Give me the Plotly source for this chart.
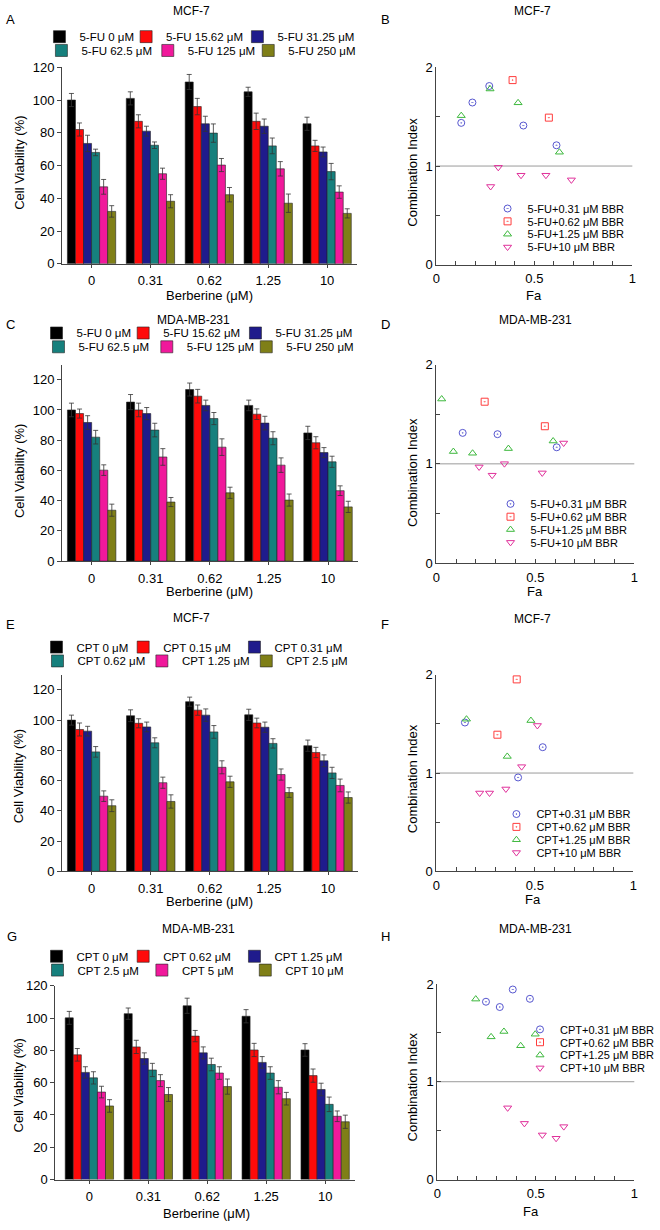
import plotly.graph_objects as go

W, H = 660, 1230

# ---------------- data ----------------
berberine = ["0", "0.31", "0.62", "1.25", "10"]

fu_mcf7_labels = ["5-FU 0 μM", "5-FU 15.62 μM", "5-FU 31.25 μM",
                  "5-FU 62.5 μM", "5-FU 125 μM", "5-FU 250 μM"]
fu_mcf7_mean = [
    [100, 101, 111, 105, 85.5],
    [82, 87, 96, 87, 72],
    [73.5, 81, 85.5, 84, 68.3],
    [68, 72.4, 79.8, 72, 56.3],
    [47, 55, 60.3, 58, 43.8],
    [32, 38.2, 42.2, 37, 30.8],
]
fu_mcf7_err = [
    [4, 4, 4.6, 2.8, 4],
    [4, 4, 5, 5, 3.4],
    [5, 3, 4.6, 4.4, 3],
    [2, 2, 5.6, 4.8, 5],
    [4.5, 3.4, 4, 4.4, 3.8],
    [3.5, 4, 4.4, 5.6, 2.8],
]

fu_mda_labels = fu_mcf7_labels
fu_mda_mean = [
    [100, 105.2, 113.5, 103, 84.8],
    [97.6, 100, 109.1, 97.2, 78.3],
    [91.7, 97.6, 103, 91.3, 71.8],
    [82, 86.7, 94.3, 81.3, 65.7],
    [60.2, 68.9, 75.4, 63.5, 46.6],
    [33.7, 39.1, 45.2, 40.4, 35.9],
]
fu_mda_err = [
    [4.5, 5, 4.3, 3.5, 4.4],
    [3, 4.5, 4.5, 3.5, 4],
    [4.5, 4, 3.5, 4.5, 3.3],
    [4.5, 4.5, 4, 4.3, 3.7],
    [3.5, 5.5, 5.5, 4.8, 3.2],
    [4, 3, 3.7, 4, 3.7],
]

cpt_mcf7_labels = ["CPT 0 μM", "CPT 0.15 μM", "CPT 0.31 μM",
                   "CPT 0.62 μM", "CPT 1.25 μM", "CPT 2.5 μM"]
cpt_mcf7_mean = [
    [100, 102.9, 112.2, 103.5, 83.1],
    [93.8, 97.9, 106.6, 98.1, 78.6],
    [92.7, 95.5, 103.3, 95.3, 73.1],
    [79, 85, 92.2, 84.6, 65.1],
    [49.7, 58.6, 68.8, 64, 56.8],
    [43.4, 46.2, 59.2, 52.1, 48.8],
]
cpt_mcf7_err = [
    [3.3, 3.9, 3, 3.7, 3.7],
    [4.3, 3, 3.4, 3.2, 3.4],
    [3.2, 3.2, 4.1, 3.4, 3.9],
    [3.5, 3.3, 4.2, 3.1, 3.7],
    [3.5, 3.7, 4.3, 3.7, 4.2],
    [3.9, 4.4, 3.7, 3.2, 3.7],
]

cpt_mda_labels = ["CPT 0 μM", "CPT 0.62 μM", "CPT 1.25 μM",
                  "CPT 2.5 μM", "CPT 5 μM", "CPT 10 μM"]
cpt_mda_mean = [
    [100.2, 102.8, 107.7, 101.2, 80.3],
    [77.3, 82.2, 88.9, 80.3, 64.4],
    [66.4, 75, 78.5, 72.6, 55.8],
    [63, 67.9, 71.3, 66, 46.6],
    [54.2, 61.3, 66, 57.2, 39.2],
    [45.6, 52.7, 57.6, 50.1, 35.8],
]
cpt_mda_err = [
    [4, 3.5, 4.7, 4.1, 3.9],
    [3.9, 4.1, 3.5, 4.1, 4.1],
    [3.5, 3.5, 3.7, 3.6, 3.9],
    [3.8, 4.1, 3.9, 3.9, 4.5],
    [3.6, 3.7, 3.9, 4.1, 3.3],
    [3.9, 4.3, 4.7, 3.9, 4.1],
]

fu_ci_labels = ["5-FU+0.31 μM BBR", "5-FU+0.62 μM BBR",
                "5-FU+1.25 μM BBR", "5-FU+10 μM BBR"]
cpt_ci_labels = ["CPT+0.31 μM BBR", "CPT+0.62 μM BBR",
                 "CPT+1.25 μM BBR", "CPT+10 μM BBR"]

b_fa = [[0.127, 0.184, 0.270, 0.444, 0.613], [0.389, 0.574],
        [0.127, 0.274, 0.417, 0.628], [0.277, 0.316, 0.432, 0.559, 0.689]]
b_ci = [[1.437, 1.643, 1.81, 1.41, 1.21], [1.87, 1.49],
        [1.51, 1.78, 1.64, 1.14], [0.793, 0.987, 0.907, 0.907, 0.86]]

d_fa = [[0.133, 0.309, 0.608], [0.244, 0.548],
        [0.027, 0.086, 0.183, 0.364, 0.59], [0.216, 0.282, 0.344, 0.535, 0.643]]
d_ci = [[1.312, 1.299, 1.167], [1.626, 1.379],
        [1.653, 1.124, 1.107, 1.154, 1.23], [0.969, 0.886, 1.002, 0.909, 1.21]]

f_fa = [[0.145, 0.415, 0.54], [0.408, 0.31],
        [0.153, 0.36, 0.48], [0.22, 0.27, 0.353, 0.433, 0.513]]
f_ci = [[1.514, 0.955, 1.263], [1.953, 1.39],
        [1.548, 1.169, 1.534], [0.797, 0.797, 0.838, 1.065, 1.484]]

h_fa = [[0.247, 0.317, 0.383, 0.47], [],
        [0.195, 0.273, 0.338, 0.423, 0.497], [0.357, 0.442, 0.533, 0.603, 0.642]]
h_ci = [[1.818, 1.764, 1.943, 1.848], [],
        [1.845, 1.459, 1.514, 1.368, 1.486], [0.733, 0.574, 0.456, 0.422, 0.541]]

# ---------------- style ----------------
FONT = "Liberation Sans, Arial, sans-serif"
bar_colors = ["#000000", "#ff0a0a", "#1f1b8c", "#16807d", "#f0199b", "#7f7f17"]
ci_symbols = ["circle-open-dot", "square-open-dot", "triangle-up-open", "triangle-down-open"]
ci_colors = ["#5656cf", "#ff3c3c", "#3db83d", "#e0319b"]
AXC = "#444444"


def px_x(p):
    return p / W


def px_y(p):
    return 1 - p / H


def ax_names(n):
    return ("xaxis" if n == 1 else f"xaxis{n}", "yaxis" if n == 1 else f"yaxis{n}",
            "x" if n == 1 else f"x{n}", "y" if n == 1 else f"y{n}")


fig = go.Figure()
layout = {}
annotations = []
legend_count = [1]


def new_legend(x, y, size=11):
    """One legend box per entry; x is the left edge of the entry in px."""
    legend_count[0] += 1
    name = f"legend{legend_count[0]}"
    layout[name] = dict(x=px_x(x), y=px_y(y), xanchor="left", yanchor="middle",
                        orientation="h", bgcolor="rgba(0,0,0,0)", borderwidth=0,
                        font=dict(family=FONT, size=size, color="#000"),
                        tracegroupgap=0, itemwidth=30, traceorder="normal")
    return name


def text_ann(text, x, y, size=13, angle=0, xanchor="center"):
    annotations.append(dict(text=text, x=px_x(x), y=px_y(y), xref="paper", yref="paper",
                            showarrow=False, xanchor=xanchor, yanchor="middle",
                            textangle=angle,
                            font=dict(family=FONT, size=size, color="#000")))


bar_panels = [
    dict(n=1, labels=fu_mcf7_labels, mean=fu_mcf7_mean, err=fu_mcf7_err,
         xd=(59, 358), yd=(61, 260), yr=[0, 120], xr=[-0.5, 4.5],
         title="MCF-7", tx=190, ty=4, tag="A", lx=0, ly=13,
         rows=(30, 44), sw=((58, 146, 259), (60, 168, 270)),
         yt=(15, 158), xt=(209, 292)),
    dict(n=3, labels=fu_mda_labels, mean=fu_mda_mean, err=fu_mda_err,
         xd=(59, 359), yd=(362, 561), yr=[0, 130], xr=[-0.5, 4.5],
         title="MDA-MB-231", tx=192, ty=317, tag="C", lx=0, ly=321,
         rows=(330, 344), sw=((55, 143, 257), (57, 167, 268)),
         yt=(15, 470), xt=(209, 592)),
    dict(n=5, labels=cpt_mcf7_labels, mean=cpt_mcf7_mean, err=cpt_mcf7_err,
         xd=(59, 359), yd=(676, 875), yr=[0, 130], xr=[-0.5, 4.5],
         title="MCF-7", tx=190, ty=619, tag="E", lx=0, ly=625,
         rows=(648, 662), sw=((55, 143, 256), (56, 162, 268)),
         yt=(15, 779), xt=(209, 906)),
    dict(n=7, labels=cpt_mda_labels, mean=cpt_mda_mean, err=cpt_mda_err,
         xd=(52, 356), yd=(991, 1187), yr=[0, 120], xr=[-0.58, 4.5],
         title="MDA-MB-231", tx=197, ty=933, tag="G", lx=1, ly=941,
         rows=(961, 975), sw=((55, 143, 256), (56, 162, 267)),
         yt=(15, 1092), xt=(206, 1221)),
]

for p in bar_panels:
    xa, ya, xr, yr = ax_names(p["n"])
    for i in range(6):
        row = 0 if i < 3 else 1
        lg = new_legend(p["sw"][row][i % 3] - 22, p["rows"][row], size=11.5)
        fig.add_trace(go.Bar(
            x=berberine, y=p["mean"][i], name=p["labels"][i],
            xaxis=xr, yaxis=yr, legend=lg,
            marker=dict(color=bar_colors[i], line=dict(color="#222", width=0.6)),
            error_y=dict(type="data", array=p["err"][i], color="#333",
                         thickness=0.8, width=2.5),
        ))
    layout[xa] = dict(domain=[px_x(p["xd"][0]), px_x(p["xd"][1])], anchor=yr,
                      type="category", range=p["xr"], showline=True, linecolor=AXC,
                      linewidth=1, ticks="outside", ticklen=3, tickcolor=AXC,
                      showgrid=False, zeroline=False, ticklabelstandoff=2,
                      tickfont=dict(family=FONT, size=13, color="#000"))
    layout[ya] = dict(domain=[px_y(p["yd"][1]), px_y(p["yd"][0])], anchor=xr,
                      range=p["yr"], dtick=20, tick0=0, showline=True, linecolor=AXC,
                      linewidth=1, ticks="outside", ticklen=4, tickcolor=AXC,
                      showgrid=False, zeroline=False,
                      tickfont=dict(family=FONT, size=13, color="#000"))
    text_ann(p["title"], p["tx"], p["ty"], size=12)
    text_ann(p["tag"], p["lx"], p["ly"], size=13, xanchor="left")
    text_ann("Cell Viability (%)", p["yt"][0], p["yt"][1], size=13, angle=-90)
    text_ann("Berberine (μM)", p["xt"][0], p["xt"][1], size=13)

ci_panels = [
    dict(n=2, labels=fu_ci_labels, fa=b_fa, ci=b_ci, xd=(439, 638), yd=(61, 261),
         title="MCF-7", tx=537, ty=4, tag="B", lx=381, ly=13,
         rows=(204, 217, 230, 243), txs=533, yt=(415, 167), xt=(538, 292)),
    dict(n=4, labels=fu_ci_labels, fa=d_fa, ci=d_ci, xd=(439, 640), yd=(362, 563),
         title="MDA-MB-231", tx=540, ty=317, tag="D", lx=381, ly=321,
         rows=(503, 516, 529, 542), txs=536, yt=(415, 471), xt=(539, 592)),
    dict(n=6, labels=cpt_ci_labels, fa=f_fa, ci=f_ci, xd=(439, 639), yd=(676, 875),
         title="MCF-7", tx=537, ty=620, tag="F", lx=381, ly=625,
         rows=(817, 830, 843, 856), txs=542, yt=(415, 781), xt=(537, 904)),
    dict(n=8, labels=cpt_ci_labels, fa=h_fa, ci=h_ci, xd=(440, 640), yd=(989, 1187),
         title="MDA-MB-231", tx=540, ty=933, tag="H", lx=381, ly=941,
         rows=(1035, 1048, 1061, 1074), txs=566, yt=(415, 1093), xt=(535, 1219)),
]

for p in ci_panels:
    xa, ya, xr, yr = ax_names(p["n"])
    for i in range(4):
        lg = new_legend(p["txs"] - 42, p["rows"][i], size=11)
        xs = p["fa"][i] if len(p["fa"][i]) else [None]
        ys = p["ci"][i] if len(p["ci"][i]) else [None]
        fig.add_trace(go.Scatter(
            x=xs, y=ys, mode="markers", name=p["labels"][i],
            xaxis=xr, yaxis=yr, legend=lg, showlegend=True,
            marker=dict(symbol=ci_symbols[i], size=7, color=ci_colors[i],
                        line=dict(color=ci_colors[i], width=1)),
        ))
    fig.add_shape(type="line", xref=f"{xr} domain", yref=yr, x0=0, x1=1, y0=1, y1=1,
                  line=dict(color="#9a9a9a", width=1), layer="below")
    layout[xa] = dict(domain=[px_x(p["xd"][0]), px_x(p["xd"][1])], anchor=yr,
                      range=[0, 1], tickmode="array", tickvals=[0, 0.5, 1],
                      ticktext=["0", "0.5", "1"], showline=True, linecolor=AXC,
                      linewidth=1, ticks="inside", ticklen=4, tickcolor=AXC,
                      minor=dict(tickmode="array",
                                 tickvals=[0.1, 0.2, 0.3, 0.4, 0.6, 0.7, 0.8, 0.9],
                                 ticks="inside", ticklen=4, tickcolor=AXC, showgrid=False),
                      showgrid=False, zeroline=False, ticklabelstandoff=2,
                      tickfont=dict(family=FONT, size=13, color="#000"))
    layout[ya] = dict(domain=[px_y(p["yd"][1]), px_y(p["yd"][0])], anchor=xr,
                      range=[0, 2], tickmode="array", tickvals=[0, 1, 2],
                      showline=True, linecolor=AXC, linewidth=1, ticks="inside",
                      ticklen=4, tickcolor=AXC,
                      minor=dict(tickmode="array", tickvals=[0.5, 1.5], ticks="inside",
                                 ticklen=4, tickcolor=AXC, showgrid=False),
                      showgrid=False, zeroline=False,
                      tickfont=dict(family=FONT, size=13, color="#000"))
    text_ann(p["title"], p["tx"], p["ty"], size=12)
    text_ann(p["tag"], p["lx"], p["ly"], size=13, xanchor="left")
    text_ann("Combination Index", p["yt"][0], p["yt"][1], size=13, angle=-90)
    text_ann("Fa", p["xt"][0], p["xt"][1], size=13)

fig.update_layout(**layout)
fig.update_layout(
    width=W, height=H, margin=dict(l=0, r=0, t=0, b=0),
    paper_bgcolor="white", plot_bgcolor="white",
    barmode="group", bargap=0.18, bargroupgap=0,
    font=dict(family=FONT, size=12, color="#000"),
    annotations=annotations, showlegend=True,
)

fig.write_html("out.html", config={"displayModeBar": False},
               post_script="document.body.style.margin='0px';")
